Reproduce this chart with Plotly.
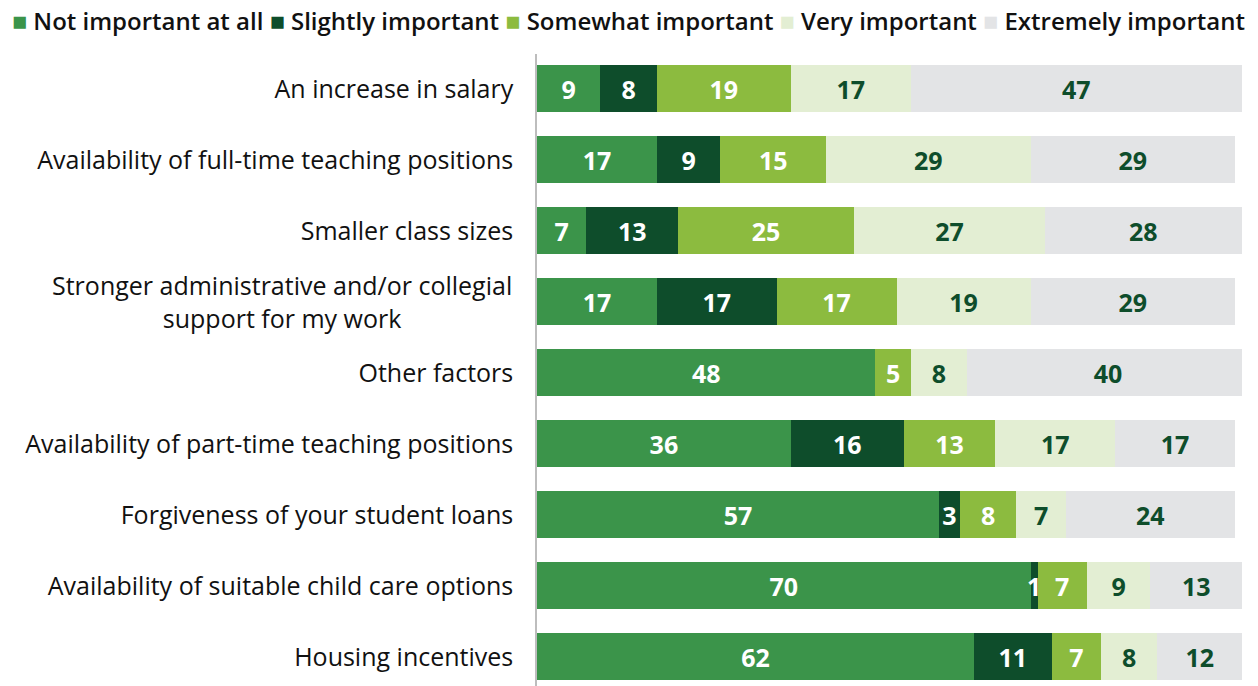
import plotly.graph_objects as go

categories = [
    "An increase in salary",
    "Availability of full-time teaching positions",
    "Smaller class sizes",
    "Stronger administrative and/or collegial<br>support for my work",
    "Other factors",
    "Availability of part-time teaching positions",
    "Forgiveness of your student loans",
    "Availability of suitable child care options",
    "Housing incentives",
]
series_names = ["Not important at all", "Slightly important", "Somewhat important",
                "Very important", "Extremely important"]
not_important = [9, 17, 7, 17, 48, 36, 57, 70, 62]
slightly = [8, 9, 13, 17, 0, 16, 3, 1, 11]
somewhat = [19, 15, 25, 17, 5, 13, 8, 7, 7]
very = [17, 29, 27, 19, 8, 17, 7, 9, 8]
extremely = [47, 29, 28, 29, 40, 17, 24, 13, 12]

values = [not_important, slightly, somewhat, very, extremely]
colors = ["#3b944a", "#0e4d2b", "#8cbb3f", "#e3eed3", "#e3e4e6"]
text_colors = ["white", "white", "white", "#0e4d2b", "#0e4d2b"]
FONT = "Open Sans"

# page body has an 8px margin; figure is sized/placed to compensate
W, H = 1250, 678
ML, MR, MT, MB = 529, 16, 46, 0
PW, PH = W - ML - MR, H - MT - MB
STANDOFF = 23

fig = go.Figure()
for name, vals, c, tc in zip(series_names, values, colors, text_colors):
    fig.add_trace(go.Bar(
        y=categories, x=vals, name=name, orientation="h",
        marker=dict(color=c, line=dict(width=0)),
        text=[str(v) if v else "" for v in vals],
        textposition="inside", insidetextanchor="middle", textangle=0,
        constraintext="none",
        textfont=dict(family=FONT, size=25, color=tc, weight="bold"),
        hoverinfo="skip", showlegend=False,
    ))

# legend drawn as one line of text with coloured squares
legend_text = "&nbsp;".join(
    f"<span style='color:{c};font-size:25px'>■</span> {n}" for n, c in zip(series_names, colors)
)
fig.add_annotation(
    text=legend_text, xref="paper", yref="paper", x=-(ML - 2) / PW, y=1 + (MT - 12) / PH,
    xanchor="left", yanchor="middle", showarrow=False,
    font=dict(family=FONT, size=24, color="#111", weight=600),
)

# multi-line category label, centre aligned
ticktext = [c if "<br>" not in c else "" for c in categories]
for c in categories:
    if "<br>" in c:
        fig.add_annotation(
            text=c, xref="paper", yref="y", x=-STANDOFF / PW, y=c,
            xanchor="right", yanchor="middle", align="center", showarrow=False,
            font=dict(family=FONT, size=25, color="#111", weight=500),
        )

fig.update_layout(
    barmode="stack", bargap=0.34,
    width=W, height=H,
    margin=dict(l=ML, r=MR, t=MT, b=MB, autoexpand=False),
    paper_bgcolor="white", plot_bgcolor="white",
    font=dict(family=FONT, size=25, color="#111"),
    showlegend=False,
    xaxis=dict(range=[0, 100], showgrid=False, showticklabels=False, zeroline=False,
               fixedrange=True),
    yaxis=dict(categoryorder="array", categoryarray=categories,
               tickmode="array", tickvals=categories, ticktext=ticktext,
               range=[8.41, -0.49], showline=True, linecolor="#bdbdbd", linewidth=1.5,
               ticks="", ticklabelstandoff=STANDOFF - 6, showgrid=False, automargin=False,
               tickfont=dict(family=FONT, size=25, color="#111", weight=500)),
)

fig.write_html("out.html")
